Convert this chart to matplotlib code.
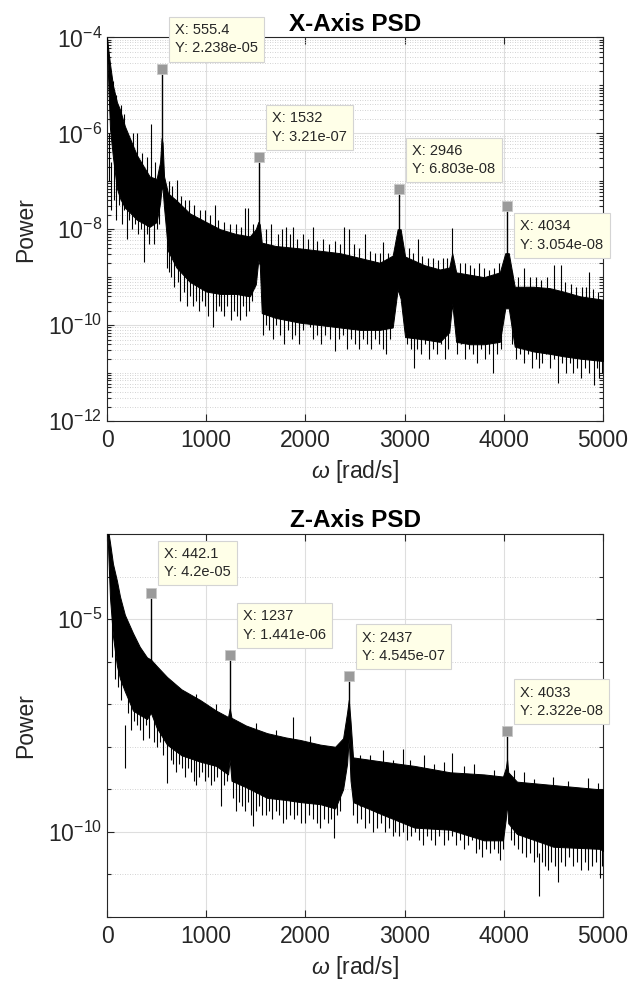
import numpy as np
import matplotlib
matplotlib.use("Agg")
import matplotlib.pyplot as plt
from matplotlib.ticker import LogLocator, NullFormatter

plt.rcParams["font.family"] = ["Liberation Sans", "DejaVu Sans"]
plt.rcParams["mathtext.fontset"] = "custom"
plt.rcParams["mathtext.rm"] = "Liberation Sans"
plt.rcParams["mathtext.it"] = "Liberation Sans:italic"

# ---------------- X-axis PSD (log10 power) ----------------
x_band_w = [0, 10, 30, 60, 100, 130, 180, 230, 300, 430, 500, 535, 550, 560, 575, 615, 700,
            835, 1000, 1140, 1300, 1440, 1500, 1525, 1540, 1560, 1700, 1945, 2150, 2350,
            2550, 2750, 2880, 2930, 2960, 3005, 3200, 3355, 3450, 3480, 3520, 3660, 3800,
            3960, 4015, 4050, 4110, 4300, 4465, 4600, 4770, 5000]
x_band_hi = [-4.0, -4.2, -4.55, -5.0, -5.35, -5.5, -5.85, -6.1, -6.45, -6.9, -6.95, -6.6,
             -6.1, -6.2, -6.9, -7.25, -7.4, -7.67, -7.85, -8.0, -8.1, -8.15, -8.0, -7.85,
             -7.9, -8.28, -8.35, -8.4, -8.45, -8.5, -8.6, -8.7, -8.55, -8.0, -8.0, -8.57,
             -8.75, -8.84, -8.8, -8.5, -8.9, -8.95, -9.0, -8.9, -8.5, -8.5, -9.2, -9.2,
             -9.23, -9.3, -9.4, -9.47]
x_band_lo = [-4.2, -4.8, -5.9, -6.5, -7.15, -7.35, -7.55, -7.65, -7.8, -7.95, -7.85, -7.45,
             -7.15, -7.15, -7.55, -8.45, -8.8, -9.1, -9.3, -9.35, -9.35, -9.4, -9.15, -8.65,
             -8.75, -9.75, -9.85, -9.95, -10.0, -10.05, -10.1, -10.1, -10.05, -9.25, -9.45,
             -10.25, -10.3, -10.35, -10.15, -9.55, -10.35, -10.4, -10.4, -10.35, -9.65,
             -9.65, -10.45, -10.55, -10.6, -10.65, -10.7, -10.75]

# tips of the narrow noise spikes hanging below / sticking above the band
x_dn_w = [20, 40, 70, 95, 120, 150, 175, 200, 225, 250, 280, 310, 340, 373, 400, 420, 470,
          500, 520, 600, 625, 650, 680, 716, 740, 780, 810, 840, 870, 900, 930, 960, 990,
          1020, 1068, 1100, 1130, 1150, 1180, 1210, 1250, 1280, 1310, 1340, 1370, 1400,
          1430, 1460, 1573, 1600, 1630, 1670, 1700, 1740, 1780, 1820, 1860, 1900, 1940,
          1980, 2046, 2080, 2120, 2160, 2200, 2250, 2298, 2340, 2380, 2420, 2460, 2500,
          2540, 2580, 2620, 2660, 2700, 2740, 2780, 2812, 2850, 3020, 3060, 3095, 3130,
          3170, 3210, 3250, 3290, 3330, 3370, 3410, 3440, 3530, 3570, 3610, 3650, 3690,
          3730, 3770, 3810, 3850, 3891, 3930, 3970, 4080, 4120, 4160, 4200, 4240, 4280,
          4320, 4350, 4390, 4430, 4470, 4510, 4546, 4590, 4630, 4670, 4700, 4740, 4780,
          4820, 4860, 4909, 4940, 4960, 4990]
x_dn_p = [-7.0, -7.6, -7.4, -7.8, -7.5, -7.9, -7.6, -8.2, -7.8, -8.0, -7.9, -8.1, -8.0,
          -8.68, -8.1, -8.3, -8.3, -8.0, -7.9, -8.8, -8.9, -9.0, -9.2, -9.1, -9.5, -9.3,
          -9.6, -9.4, -9.6, -9.5, -9.7, -9.5, -9.6, -9.8, -10.05, -9.7, -9.6, -9.7, -9.8,
          -9.6, -9.9, -9.7, -9.8, -9.9, -9.6, -9.8, -9.7, -9.5, -10.2, -10.0, -10.1, -10.3,
          -10.0, -10.2, -10.4, -10.1, -10.3, -10.2, -10.4, -10.1, -10.05, -10.3, -10.2,
          -10.4, -10.2, -10.3, -10.55, -10.3, -10.2, -10.5, -10.3, -10.4, -10.5, -10.3,
          -10.4, -10.5, -10.3, -10.4, -10.5, -10.6, -10.3, -10.4, -10.5, -10.9, -10.5,
          -10.6, -10.4, -10.7, -10.5, -10.6, -10.4, -10.7, -10.5, -10.6, -10.4, -10.7,
          -10.5, -10.6, -10.8, -10.5, -10.7, -10.6, -11.0, -10.6, -10.5, -10.4, -10.7,
          -10.6, -10.8, -10.6, -10.9, -10.7, -10.9, -10.8, -10.6, -10.9, -10.7, -11.2,
          -10.8, -11.0, -10.8, -11.0, -10.9, -11.1, -10.9, -11.0, -11.25, -10.9, -11.1,
          -11.0]
x_up_w = [60, 90, 140, 170, 260, 300, 350, 400, 440, 480, 620, 660, 705, 750, 790, 830, 880,
          940, 990, 1040, 1089, 1120, 1180, 1240, 1300, 1350, 1390, 1420, 1470, 1600, 1650,
          1720, 1760, 1800, 1840, 1875, 1920, 1980, 2030, 2077, 2120, 2180, 2240, 2300,
          2350, 2389, 2439, 2490, 2540, 2600, 2650, 2700, 2750, 2782, 2830, 3040, 3080,
          3135, 3180, 3240, 3290, 3340, 3390, 3430, 3478, 3560, 3610, 3660, 3700, 3750,
          3800, 3850, 3900, 3950, 4080, 4140, 4200, 4260, 4320, 4380, 4440, 4506, 4577,
          4620, 4680, 4730, 4790, 4830, 4859, 4900, 4950]
x_up_p = [-4.9, -5.2, -5.4, -5.6, -6.0, -6.0, -6.4, -6.5, -5.8, -6.6, -7.0, -7.1, -6.97,
          -7.3, -7.4, -7.4, -7.5, -7.6, -7.6, -7.7, -7.5, -7.8, -7.85, -7.9, -7.9, -7.95,
          -7.55, -7.55, -7.9, -8.0, -7.9, -8.1, -8.0, -7.95, -8.1, -7.95, -8.2, -8.1, -8.2,
          -7.95, -8.25, -8.2, -8.3, -8.25, -8.3, -7.95, -8.0, -8.3, -8.4, -8.1, -8.45,
          -8.5, -8.5, -8.26, -8.5, -8.4, -8.5, -8.2, -8.55, -8.6, -8.6, -8.65, -8.6, -8.6,
          -7.97, -8.7, -8.7, -8.75, -8.8, -8.7, -8.8, -8.85, -8.8, -8.7, -8.9, -9.0, -8.8,
          -9.0, -9.0, -9.05, -9.0, -8.75, -8.75, -9.1, -9.15, -9.2, -9.2, -9.2, -8.9,
          -9.25, -9.3]

x_peak_w = [555.4, 1532, 2946, 4034]
x_peak_p = [2.238e-05, 3.21e-07, 6.803e-08, 3.054e-08]
x_peak_base = [-7.0, -8.5, -9.2, -9.0]
x_peak_lbl = ["X: 555.4\nY: 2.238e-05", "X: 1532\nY: 3.21e-07",
              "X: 2946\nY: 6.803e-08", "X: 4034\nY: 3.054e-08"]
x_tip_below = [False, False, False, True]

# ---------------- Z-axis PSD ----------------
z_band_w = [0, 10, 30, 60, 100, 131, 180, 262, 330, 403, 442, 500, 605, 750, 938, 1100,
            1220, 1237, 1255, 1400, 1613, 1800, 1946, 2150, 2300, 2380, 2420, 2437, 2455,
            2480, 2782, 3100, 3458, 3800, 3992, 4020, 4033, 4045, 4133, 4500, 4970, 5000]
z_band_hi = [-2.5, -2.9, -3.2, -3.7, -4.1, -4.47, -4.9, -5.33, -5.65, -5.9, -5.95, -6.1,
             -6.36, -6.65, -6.9, -7.15, -7.3, -7.1, -7.32, -7.5, -7.68, -7.78, -7.84,
             -7.95, -8.0, -7.8, -7.2, -6.9, -7.4, -8.25, -8.35, -8.45, -8.6, -8.65, -8.7,
             -8.5, -8.3, -8.6, -8.82, -8.9, -9.0, -9.0]
z_band_lo = [-2.8, -3.3, -4.5, -5.4, -6.1, -6.4, -6.7, -7.15, -7.25, -7.35, -7.2, -7.55,
             -7.95, -8.2, -8.35, -8.45, -8.65, -8.3, -8.8, -8.95, -9.2, -9.25, -9.3, -9.35,
             -9.45, -9.0, -8.4, -7.8, -8.8, -9.3, -9.6, -9.9, -9.95, -10.2, -10.2, -9.7,
             -9.3, -9.8, -10.05, -10.35, -10.4, -10.45]

z_dn_w = [50, 80, 110, 140, 182, 210, 240, 270, 300, 330, 363, 390, 420, 470, 500, 530, 560,
          605, 640, 670, 700, 730, 760, 790, 820, 850, 880, 900, 930, 960, 990, 1020, 1050,
          1080, 1110, 1150, 1180, 1210, 1270, 1300, 1330, 1360, 1390, 1420, 1450, 1472,
          1500, 1530, 1560, 1600, 1630, 1660, 1700, 1730, 1770, 1800, 1840, 1880, 1920,
          1960, 2000, 2040, 2080, 2120, 2150, 2190, 2230, 2260, 2288, 2320, 2350, 2480,
          2520, 2560, 2600, 2640, 2680, 2720, 2760, 2800, 2840, 2880, 2900, 2940, 2980,
          3020, 3060, 3100, 3150, 3190, 3230, 3270, 3310, 3350, 3400, 3440, 3480, 3520,
          3560, 3600, 3640, 3680, 3720, 3750, 3780, 3820, 3860, 3900, 3940, 3962, 3990,
          4070, 4100, 4140, 4180, 4220, 4260, 4300, 4330, 4355, 4390, 4420, 4450, 4480,
          4520, 4546, 4580, 4620, 4660, 4700, 4740, 4780, 4820, 4850, 4890, 4930, 4970,
          4995]
z_dn_p = [-5.9, -6.4, -6.6, -6.9, -8.5, -7.2, -7.6, -7.4, -7.5, -7.6, -7.84, -7.5, -7.8,
          -7.9, -8.0, -7.9, -8.2, -8.85, -8.3, -8.4, -8.6, -8.4, -8.5, -8.7, -8.5, -8.6,
          -8.8, -8.9, -8.7, -8.6, -8.8, -8.7, -8.9, -8.8, -8.7, -9.4, -8.9, -8.8, -9.2,
          -9.5, -9.3, -9.4, -9.5, -9.3, -9.6, -9.87, -9.5, -9.4, -9.6, -9.6, -9.5, -9.7,
          -9.5, -9.6, -9.8, -9.7, -9.6, -9.7, -9.6, -9.8, -9.8, -9.6, -9.7, -9.8, -9.9,
          -9.7, -9.8, -9.7, -10.14, -9.6, -9.5, -9.6, -9.8, -9.7, -9.9, -9.8, -10.0, -9.9,
          -9.8, -10.0, -9.9, -10.1, -10.0, -10.1, -10.0, -10.2, -10.1, -10.0, -10.2, -10.3,
          -10.1, -10.2, -10.3, -10.1, -10.3, -10.2, -10.1, -10.3, -10.2, -10.4, -10.3,
          -10.2, -10.5, -10.4, -10.6, -10.4, -10.5, -10.4, -10.5, -10.65, -10.4, -10.2,
          -10.3, -10.4, -10.5, -10.6, -10.5, -10.7, -10.6, -11.5, -10.7, -10.8, -10.9,
          -10.7, -10.8, -11.17, -10.7, -10.8, -10.6, -10.8, -10.7, -10.9, -10.7, -10.9,
          -10.8, -10.7, -11.08, -10.8]
z_up_w = [900, 1100, 1500, 1700, 1875, 2050, 2550, 2650, 2782, 2880, 2983, 3050, 3200, 3300,
          3400, 3478, 3600, 3700, 3900, 4100, 4200, 4300, 4500, 4650, 4850, 4950]
z_up_p = [-6.75, -7.0, -7.45, -7.6, -7.3, -7.75, -8.2, -8.2, -8.07, -8.3, -8.05, -8.3, -8.2,
          -8.4, -8.35, -8.15, -8.45, -8.4, -8.55, -8.55, -8.6, -8.75, -8.7, -8.8, -8.73,
          -8.85]

z_peak_w = [442.1, 1237, 2437, 4033]
z_peak_p = [4.2e-05, 1.441e-06, 4.545e-07, 2.322e-08]
z_peak_base = [-7.0, -8.1, -7.6, -9.1]
z_peak_lbl = ["X: 442.1\nY: 4.2e-05", "X: 1237\nY: 1.441e-06",
              "X: 2437\nY: 4.545e-07", "X: 4033\nY: 2.322e-08"]
z_tip_below = [False, False, False, False]

fig = plt.figure(figsize=(6.31, 9.94), dpi=100)
ax1 = fig.add_axes([0.1696, 0.5765, 0.786, 0.3858])
ax2 = fig.add_axes([0.1696, 0.0775, 0.786, 0.3853])

dark = "#262626"


def draw_psd(ax, bw, bhi, blo, dw, dp, uw, up, pw, pp, pbase, labels, below):
    ax.fill_between(np.asarray(bw, float), 10.0 ** np.asarray(blo), 10.0 ** np.asarray(bhi),
                    color="black", linewidth=0.7, zorder=3)
    # spikes: drawn from the tip back into the band
    dp = np.asarray(dp)
    up = np.asarray(up)
    ax.vlines(dw, 10.0 ** dp, 10.0 ** (dp + 1.0), color="black", linewidth=0.8, zorder=3)
    ax.vlines(uw, 10.0 ** (up - 1.2), 10.0 ** up, color="black", linewidth=0.8, zorder=3)
    ax.vlines(pw, 10.0 ** np.asarray(pbase), pp, color="black", linewidth=1.0, zorder=3)
    ax.plot(pw, pp, linestyle="none", marker="s", markersize=6.5,
            markerfacecolor="#9a9a9a", markeredgecolor="#c8c8c8", markeredgewidth=0.6,
            zorder=5)
    for w, p, txt, bel in zip(pw, pp, labels, below):
        ax.annotate(txt, (w, p), xytext=(9.5, -9.5 if bel else 9.5),
                    textcoords="offset points", ha="left", va="top" if bel else "bottom",
                    fontsize=10.5, color=dark, linespacing=1.4, annotation_clip=False,
                    bbox=dict(boxstyle="square,pad=0.42", facecolor="#ffffe8",
                              edgecolor="#d4d4d4", linewidth=0.8), zorder=6)


def style_axes(ax, ylim, majors, minor_subs, title):
    ax.set_yscale("log")
    ax.set_xlim(0, 5000)
    ax.set_ylim(*ylim)
    ax.set_xticks([0, 1000, 2000, 3000, 4000, 5000])
    ax.set_yticks(majors)
    ax.yaxis.set_minor_locator(LogLocator(base=10, subs=minor_subs, numticks=100))
    ax.yaxis.set_minor_formatter(NullFormatter())
    ax.tick_params(which="both", direction="in", top=True, right=True, colors=dark,
                   labelsize=16.5, width=0.8)
    ax.tick_params(which="major", length=5)
    ax.tick_params(which="minor", length=3)
    ax.tick_params(axis="x", pad=6)
    ax.grid(True, which="major", color="#dedede", linewidth=0.8, zorder=0)
    ax.grid(True, which="minor", axis="y", color="#c4c4c4", linestyle=(0, (1, 2)),
            linewidth=0.6, zorder=0)
    ax.set_axisbelow(True)
    for s in ax.spines.values():
        s.set_color(dark)
        s.set_linewidth(0.8)
    ax.set_xlabel(r"$\omega$ [rad/s]", fontsize=16.5, color=dark, labelpad=4)
    ax.set_ylabel("Power", fontsize=16.5, color=dark, labelpad=8)
    ax.set_title(title, fontsize=17.5, fontweight="bold", color="black", pad=5)


draw_psd(ax1, x_band_w, x_band_hi, x_band_lo, x_dn_w, x_dn_p, x_up_w, x_up_p,
         x_peak_w, x_peak_p, x_peak_base, x_peak_lbl, x_tip_below)
style_axes(ax1, (1e-12, 1e-4), [1e-12, 1e-10, 1e-8, 1e-6, 1e-4],
           np.arange(1, 10), "X-Axis PSD")

draw_psd(ax2, z_band_w, z_band_hi, z_band_lo, z_dn_w, z_dn_p, z_up_w, z_up_p,
         z_peak_w, z_peak_p, z_peak_base, z_peak_lbl, z_tip_below)
style_axes(ax2, (1e-12, 1e-3), [1e-10, 1e-5], [1.0], "Z-Axis PSD")

fig.savefig("out.png", dpi=100)
plt.close(fig)
